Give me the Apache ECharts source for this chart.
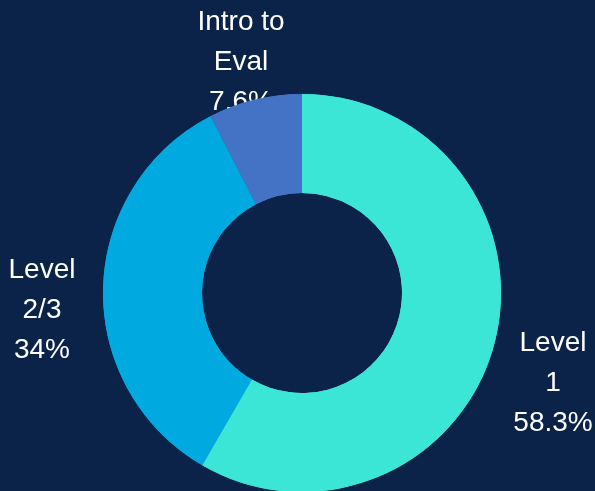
<!DOCTYPE html>
<html>
<head>
<meta charset="utf-8">
<script src="https://cdn.jsdelivr.net/npm/echarts@6/dist/echarts.min.js"></script>
<style>
html,body{margin:0;padding:0;background:#0b2349;}
#c{width:595px;height:491px;}
</style>
</head>
<body>
<div id="c"></div>
<script>
var categories = ['Level 1', 'Level 2/3', 'Intro to Eval'];
var labelText = ['Level\n1', 'Level\n2/3', 'Intro to\nEval'];
var values = [58.3, 34, 7.6];
var colors = ['#3be6d6', '#00a9df', '#4472c4'];

var labelPos = [[553, 383], [42, 310], [241, 62]];

var data = categories.map(function (c, i) {
  return { name: c, value: values[i], itemStyle: { color: colors[i] } };
});

var chart = echarts.init(document.getElementById('c'));
chart.setOption({
  backgroundColor: '#0b2349',
  animation: false,
  series: [
    {
      type: 'pie',
      z: 1,
      center: [302, 293],
      radius: [100, 199],
      startAngle: 90,
      clockwise: true,
      silent: true,
      labelLine: { show: false },
      label: {
        show: true,
        position: 'outside',
        overflow: 'none',
        edgeDistance: 0,
        color: '#ffffff',
        fontFamily: 'Liberation Sans, Arial, sans-serif',
        fontSize: 28,
        lineHeight: 40,
        align: 'center',
        formatter: function (p) {
          return labelText[p.dataIndex] + '\n' + p.value + '%';
        }
      },
      labelLayout: function (p) {
        var pos = labelPos[p.dataIndex];
        return { x: pos[0], y: pos[1], align: 'center', verticalAlign: 'middle' };
      },
      data: data
    },
    {
      type: 'pie',
      z: 2,
      center: [302, 293],
      radius: [100, 199],
      startAngle: 90,
      clockwise: true,
      label: { show: false },
      labelLine: { show: false },
      itemStyle: { borderWidth: 0 },
      data: data
    }
  ]
});
</script>
</body>
</html>
